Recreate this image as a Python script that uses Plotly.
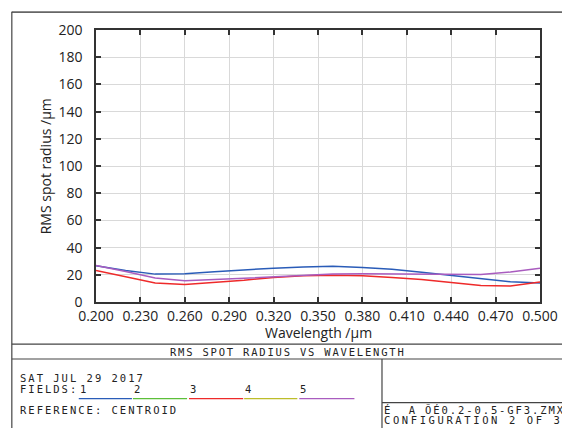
import plotly.graph_objects as go

wavelength = [0.20, 0.22, 0.24, 0.26, 0.28, 0.30, 0.32, 0.34, 0.36, 0.38, 0.40, 0.42, 0.44, 0.46, 0.48, 0.50]
field1 = [26.6, 23.2, 20.5, 20.8, 22.2, 23.6, 24.9, 25.8, 26.2, 25.4, 24.0, 21.8, 19.3, 16.8, 14.8, 14.0]
field3 = [23.2, 18.5, 13.9, 12.8, 14.3, 16.0, 18.1, 19.3, 19.6, 19.3, 18.0, 16.5, 14.4, 12.2, 11.8, 14.7]
field5 = [26.8, 22.5, 17.6, 15.7, 16.5, 17.5, 18.6, 19.6, 20.5, 20.8, 20.6, 20.3, 20.0, 20.3, 22.0, 24.9]

field_labels = ["1", "2", "3", "4", "5"]
field_colors = ["#2a5cb8", "#5cbf3a", "#ee2a2a", "#bdbd2a", "#a95cbf"]

x_ticks = [0.200, 0.230, 0.260, 0.290, 0.320, 0.350, 0.380, 0.410, 0.440, 0.470, 0.500]
y_ticks = [0, 20, 40, 60, 80, 100, 120, 140, 160, 180, 200]

# page offset from default body margin of the html page
OFF = 8
W, H = 570 - OFF, 428 - OFF
# plot area in page pixels
PL, PR, PT, PB = 95.5, 546.5, 28.0, 302.5
L, R, T, B = PL - OFF, PR - OFF, PT - OFF, PB - OFF


def px(x):
    return (x - PL) / (PR - PL)


def py(y):
    return (PB - y) / (PB - PT)


fig = go.Figure()
for vals, col in [(field1, field_colors[0]), (field3, field_colors[2]), (field5, field_colors[4])]:
    fig.add_trace(go.Scatter(x=wavelength, y=vals, mode="lines",
                             line=dict(color=col, width=1.5), showlegend=False))

axis_common = dict(showline=True, linecolor="#333", linewidth=1.5, mirror="ticks",
                   ticks="inside", ticklen=5, tickcolor="#333", tickwidth=1.5,
                   showgrid=True, gridcolor="#d9d9d9", gridwidth=1, zeroline=False,
                   tickfont=dict(family="Open Sans", size=14, color="#222"))

fig.update_xaxes(range=[0.2, 0.5], tickvals=x_ticks, ticktext=[f"{v:.3f}" for v in x_ticks],
                 ticklabelstandoff=0, **axis_common)
fig.update_yaxes(range=[0, 200], tickvals=y_ticks, ticklabelstandoff=9, **axis_common)

shapes = []
fc = "#444"


def hline(x0, x1, y, w=1.2, color=fc):
    shapes.append(dict(type="line", xref="paper", yref="paper", x0=px(x0), x1=px(x1),
                       y0=py(y), y1=py(y), line=dict(color=color, width=w)))


def vline(x, y0, y1, w=1.2, color=fc):
    shapes.append(dict(type="line", xref="paper", yref="paper", x0=px(x), x1=px(x),
                       y0=py(y0), y1=py(y1), line=dict(color=color, width=w)))


hline(10, 575, 10, w=1.8, color="#666")
vline(10, 9.5, 435)
hline(10, 575, 345)
hline(10, 575, 360)
vline(386, 360, 435)
hline(386, 575, 404)

seg = [(78, 132), (133, 188), (190, 245), (246, 300), (302, 358)]
for (a, b), col in zip(seg, field_colors):
    hline(a, b, 400, w=1.3, color=col)

sans = dict(family="Open Sans", size=14, color="#222")
mono = dict(family="DejaVu Sans Mono", size=10.5, color="#222")
ann = []


def text(x, y, s, anchor="left", ls=2.0, yanchor="middle"):
    ann.append(dict(x=px(x), y=py(y), xref="paper", yref="paper",
                    text=f'<span style="letter-spacing:{ls}px">' + s + '</span>', showarrow=False,
                    xanchor=anchor, yanchor=yanchor, font=mono))


# axis titles
ann.append(dict(x=px((PL + PR) / 2), y=py(333), xref="paper", yref="paper", text="Wavelength /µm",
                showarrow=False, xanchor="center", yanchor="middle", font=sans))
ann.append(dict(x=px(44), y=py((PT + PB) / 2), xref="paper", yref="paper", text="RMS spot radius /µm",
                showarrow=False, xanchor="center", yanchor="middle", textangle=-90, font=sans))

text(291, 352.5, "RMS SPOT RADIUS VS WAVELENGTH", anchor="center", ls=1.8)
text(16, 379, "SAT JUL 29 2017")
text(16, 390, "FIELDS:")
for lab, (a, b) in zip(field_labels, seg):
    text(a - 1, 390, lab)
text(16, 411, "REFERENCE: CENTROID")
text(386.5, 411, "É  A ÕÉ0.2-0.5-GF3.ZMX", ls=1.9)
text(386.5, 421.5, "CONFIGURATION 2 OF 3", ls=2.6)

fig.update_layout(width=W, height=H, margin=dict(l=L, r=W - R, t=T, b=H - B, pad=0),
                  paper_bgcolor="white", plot_bgcolor="white",
                  shapes=shapes, annotations=ann, showlegend=False)

fig.write_html("out.html")
